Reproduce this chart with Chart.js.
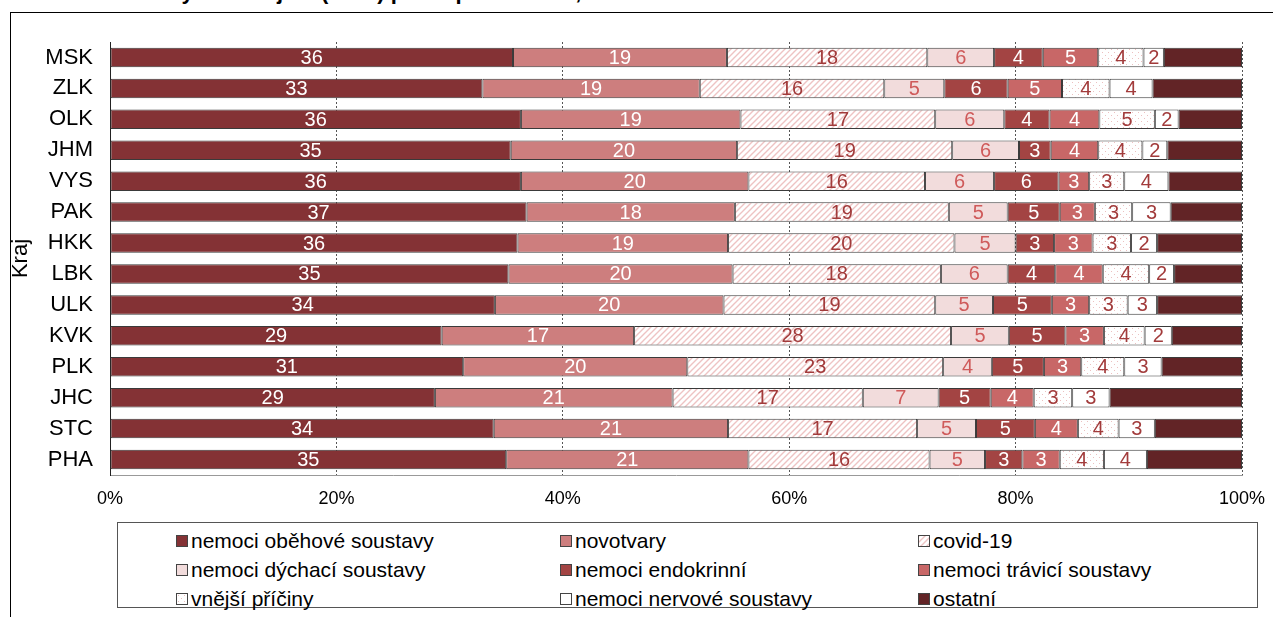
<!DOCTYPE html>
<html>
<head>
<meta charset="utf-8">
<script src="https://cdn.jsdelivr.net/npm/chart.js@4.4.1/dist/chart.umd.min.js"></script>
<style>
  body { margin: 0; width: 1273px; height: 617px; overflow: hidden; background: #fff; font-family: 'Liberation Sans', Arial, sans-serif; position: relative; }
  #title { position: absolute; left: 8px; top: -19px; font-weight: bold; font-size: 22px; line-height: 22px; white-space: nowrap; color: #000; }
  #frame { position: absolute; left: 10px; top: 12px; width: 1400px; height: 700px; border-left: 1px solid #000; border-top: 1.5px solid #000; }
  #chart { position: absolute; left: 0; top: 0; }
  #legend { position: absolute; left: 117px; top: 522px; width: 1141px; height: 86px; box-sizing: border-box; border: 1px solid #555;
    display: grid; grid-template-columns: 384px 358px auto; grid-auto-rows: 29px; padding: 3px 0 0 58px; }
  .item { display: flex; align-items: center; font-size: 21px; color: #000; white-space: nowrap; }
  .sw { width: 10px; height: 10px; border: 1px solid #444; margin-right: 3px; flex: none; }
</style>
</head>
<body>
<div id="title">Struktura zemřelých v krajích (2022) podle příčin smrti, %</div>
<div id="frame"></div>
<canvas id="chart" width="1273" height="520"></canvas>
<div id="legend"></div>
<script>
const regions = ['MSK', 'ZLK', 'OLK', 'JHM', 'VYS', 'PAK', 'HKK', 'LBK', 'ULK', 'KVK', 'PLK', 'JHC', 'STC', 'PHA'];

const obehove    = [35.6, 32.9, 36.3, 35.4, 36.3, 36.8, 36.0, 35.2, 34.0, 29.3, 31.2, 28.7, 33.9, 35.0];
const novotvary  = [18.9, 19.2, 19.4, 20.0, 20.1, 18.4, 18.6, 19.8, 20.2, 17.0, 19.8, 21.0, 20.7, 21.4];
const covid      = [17.7, 16.3, 17.2, 19.0, 15.6, 18.9, 20.0, 18.4, 18.7, 28.0, 22.6, 16.8, 16.7, 16.0];
const dychaci    = [5.9, 5.3, 6.1, 5.9, 6.1, 5.2, 5.4, 5.9, 5.1, 5.1, 4.3, 6.7, 5.2, 4.9];
const endokrinni = [4.3, 5.6, 4.0, 2.8, 5.7, 4.6, 3.4, 4.2, 5.2, 5.0, 4.6, 4.6, 5.2, 3.3];
const travici    = [4.9, 4.8, 4.4, 4.2, 2.7, 3.1, 3.4, 4.2, 3.3, 3.4, 3.3, 3.8, 3.8, 3.3];
const vnejsi     = [4.0, 4.2, 4.9, 3.9, 3.1, 3.3, 3.4, 4.1, 3.4, 3.6, 3.8, 3.4, 3.6, 3.9];
const nervove    = [1.8, 3.8, 2.1, 2.2, 3.9, 3.4, 2.3, 2.2, 2.6, 2.4, 3.3, 3.3, 3.2, 3.8];
const ostatni    = [6.9, 7.9, 5.6, 6.6, 6.5, 6.3, 7.5, 6.0, 7.5, 6.2, 7.1, 11.7, 7.7, 8.4];

const xTicks = [0, 20, 40, 60, 80, 100];

// pattern tiles for covid (hatch) and external causes (dots)
const hatchTile = () => {
    const c = document.createElement('canvas');
    c.width = c.height = 6;
    const g = c.getContext('2d');
    g.fillStyle = '#fff';
    g.fillRect(0, 0, 6, 6);
    g.strokeStyle = '#eec3c3';
    g.lineWidth = 1.4;
    g.beginPath();
    g.moveTo(0, 6); g.lineTo(6, 0);
    g.moveTo(-3, 3); g.lineTo(3, -3);
    g.moveTo(3, 9); g.lineTo(9, 3);
    g.stroke();
    return c;
}
const dotTile = () => {
    const c = document.createElement('canvas');
    c.width = c.height = 6;
    const g = c.getContext('2d');
    g.fillStyle = '#fff';
    g.fillRect(0, 0, 6, 6);
    g.fillStyle = '#ecc0c0';
    g.fillRect(1, 1, 1, 1);
    g.fillRect(4, 4, 1, 1);
    return c;
}
const ctx = document.getElementById('chart').getContext('2d');
const hatch = hatchTile(), dots = dotTile();

const series = [
    { label: 'nemoci oběhové soustavy', data: obehove, color: '#843235', text: '#fff' },
    { label: 'novotvary', data: novotvary, color: '#cd7e7e', text: '#fff' },
    { label: 'covid-19', data: covid, color: ctx.createPattern(hatch, 'repeat'), tile: hatch, text: '#a23b3b' },
    { label: 'nemoci dýchací soustavy', data: dychaci, color: '#f2dcdc', text: '#cf5a5a' },
    { label: 'nemoci endokrinní', data: endokrinni, color: '#a34443', text: '#fff' },
    { label: 'nemoci trávicí soustavy', data: travici, color: '#c86767', text: '#fff' },
    { label: 'vnější příčiny', data: vnejsi, color: ctx.createPattern(dots, 'repeat'), tile: dots, text: '#a23b3b' },
    { label: 'nemoci nervové soustavy', data: nervove, color: '#fff', text: '#a23b3b' },
    { label: 'ostatní', data: ostatni, color: '#622426', text: null },
];

const segmentLabels = {
    id: 'segmentLabels',
    afterDatasetsDraw(chart) {
        const c = chart.ctx;
        c.save();
        c.font = '20px "Liberation Sans", Arial, sans-serif';
        c.textAlign = 'center';
        c.textBaseline = 'middle';
        chart.data.datasets.forEach((ds, i) => {
            if (!ds.textColor) return;
            c.fillStyle = ds.textColor;
            chart.getDatasetMeta(i).data.forEach((bar, j) => {
                c.fillText(Math.round(ds.data[j]), (bar.x + bar.base) / 2, bar.y + 1);
            });
        });
        c.restore();
    }
};

const family = '"Liberation Sans", Arial, sans-serif';

const chart = new Chart(ctx, {
    type: 'bar',
    data: {
        labels: regions,
        datasets: series.map(s => ({
            label: s.label,
            data: s.data,
            backgroundColor: s.color,
            borderColor: '#3a3a3a',
            borderWidth: 1,
            borderSkipped: false,
            textColor: s.text,
            barPercentage: 0.63,
            categoryPercentage: 1,
        }))
    },
    options: {
        indexAxis: 'y',
        responsive: false,
        animation: false,
        devicePixelRatio: 1,
        layout: { padding: { top: 42, right: 31, bottom: 0, left: 0 } },
        plugins: { legend: { display: false }, tooltip: { enabled: false } },
        scales: {
            x: {
                stacked: true,
                min: 0, max: 100,
                afterBuildTicks: s => { s.ticks = xTicks.map(v => ({ value: v })); },
                afterFit: s => { s.height = 45; s.paddingLeft = 0; s.paddingRight = 0; },
                ticks: { callback: v => v + '%', color: '#000', font: { family, size: 18 }, padding: 13, maxRotation: 0 },
                grid: { color: '#555', drawTicks: false, lineWidth: 1 },
                border: { display: true, color: '#999', dash: [2, 2] },
            },
            y: {
                stacked: true,
                afterFit: s => { s.width = 110; },
                ticks: { color: '#000', font: { family, size: 22 }, padding: 17 },
                grid: { display: false, drawTicks: false },
                border: { display: true, color: '#222', width: 1 },
                title: { display: true, text: 'Kraj', color: '#000', font: { family, size: 22 }, padding: { top: 8, bottom: 0 } },
            }
        }
    },
    plugins: [segmentLabels]
});

// legend in a bordered box, three columns
const legend = document.getElementById('legend');
series.forEach(s => {
    const item = document.createElement('div');
    item.className = 'item';
    const sw = document.createElement('span');
    sw.className = 'sw';
    if (s.tile) sw.style.backgroundImage = 'url(' + s.tile.toDataURL() + ')';
    else sw.style.background = s.color;
    item.appendChild(sw);
    item.appendChild(document.createTextNode(s.label));
    legend.appendChild(item);
});
</script>
</body>
</html>
